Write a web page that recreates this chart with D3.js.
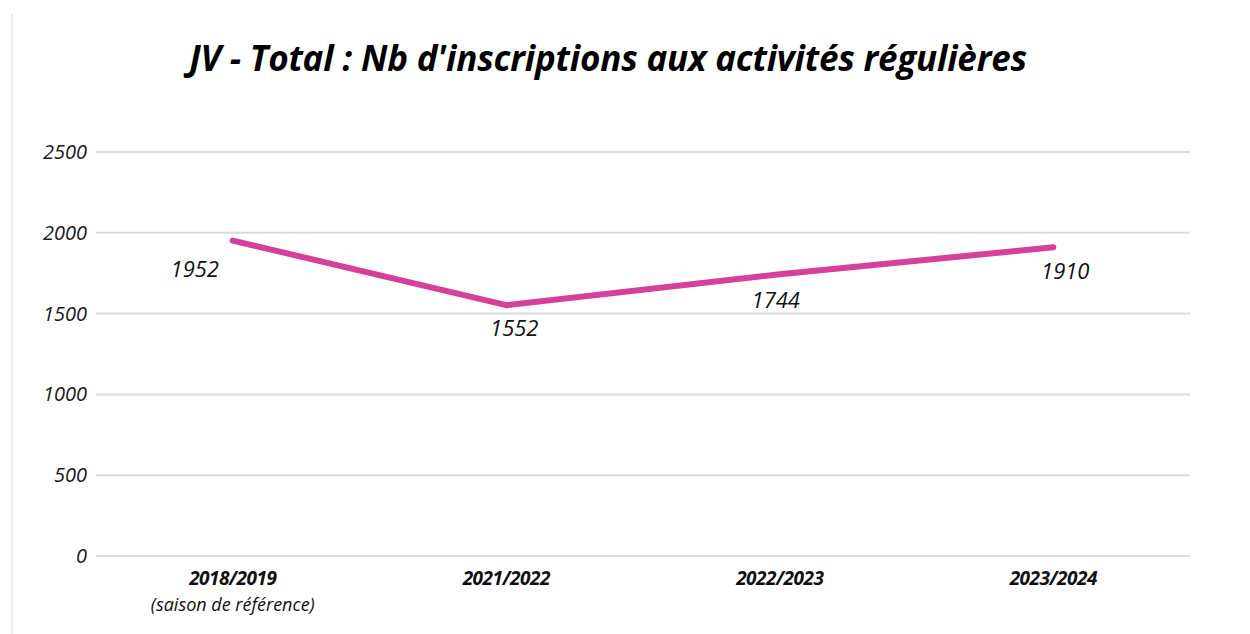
<!DOCTYPE html>
<html>
<head>
<meta charset="utf-8">
<script src="https://cdn.jsdelivr.net/npm/d3@7"></script>
<style>
  body { margin: 0; background: #fff; }
  text { font-family: "Open Sans", "Liberation Sans", sans-serif; }
</style>
</head>
<body>
<div id="chart"></div>
<script>
var w = 1250;
var h = 634;

// data
var seasons = ["2018/2019", "2021/2022", "2022/2023", "2023/2024"];
var subLabels = ["(saison de référence)", "", "", ""];
var inscriptions = [1952, 1552, 1744, 1910];
var yTicks = [0, 500, 1000, 1500, 2000, 2500];

var svg = d3.select("#chart")
    .append("svg")
    .attr("width", w)
    .attr("height", h);

// thin frame line on the left
svg.append("line")
    .attr("x1", 12).attr("x2", 12)
    .attr("y1", 14).attr("y2", h)
    .attr("stroke", "#e4e4e4")
    .attr("stroke-width", 1.5);

// title
svg.append("text")
    .attr("x", 608)
    .attr("y", 71)
    .attr("text-anchor", "middle")
    .style("font-size", "35px")
    .style("font-weight", "bold")
    .style("font-style", "italic")
    .style("letter-spacing", "-0.2px")
    .text("JV - Total : Nb d'inscriptions aux activités régulières");

var plotLeft = 96, plotRight = 1190, plotTop = 152, plotBottom = 556;

var xScale = d3.scalePoint().domain(seasons).range([plotLeft, plotRight]).padding(0.5);
var yScale = d3.scaleLinear().domain([0, 2500]).range([plotBottom, plotTop]);

// grid lines
svg.append("g")
    .selectAll("line")
    .data(yTicks)
    .enter().append("line")
    .attr("x1", plotLeft)
    .attr("x2", plotRight)
    .attr("y1", function(d) { return yScale(d); })
    .attr("y2", function(d) { return yScale(d); })
    .attr("stroke", "#dcdcdc")
    .attr("stroke-width", 2);

// y-axis labels
svg.append("g")
    .selectAll("text")
    .data(yTicks)
    .enter().append("text")
    .attr("x", 87)
    .attr("y", function(d) { return yScale(d) + 7; })
    .attr("text-anchor", "end")
    .style("font-size", "20px")
    .style("font-style", "italic")
    .attr("fill", "#1a1a1a")
    .text(function(d) { return d; });

// x-axis labels
svg.append("g")
    .selectAll("text")
    .data(seasons)
    .enter().append("text")
    .attr("x", function(d) { return xScale(d); })
    .attr("y", 585)
    .attr("text-anchor", "middle")
    .style("font-size", "19px")
    .style("font-style", "italic")
    .style("font-weight", "bold")
    .style("letter-spacing", "-0.5px")
    .attr("fill", "#111")
    .text(function(d) { return d; });

svg.append("g")
    .selectAll("text")
    .data(subLabels)
    .enter().append("text")
    .attr("x", function(d, i) { return xScale(seasons[i]); })
    .attr("y", 611)
    .attr("text-anchor", "middle")
    .style("font-size", "18px")
    .style("font-style", "italic")
    .attr("fill", "#111")
    .text(function(d) { return d; });

// the line
var pts = seasons.map(function(s, i) { return [xScale(s), yScale(inscriptions[i])]; });

svg.append("path")
    .datum(pts)
    .attr("d", d3.line())
    .attr("fill", "none")
    .attr("stroke", "#d6409a")
    .attr("stroke-width", 6)
    .attr("stroke-linecap", "round")
    .attr("stroke-linejoin", "round");

// value labels (offsets relative to each point)
var labelDx = [-38, 8, -4, 12];
var labelDy = [36, 31, 34, 32];

svg.append("g")
    .selectAll("text")
    .data(inscriptions)
    .enter().append("text")
    .attr("x", function(d, i) { return xScale(seasons[i]) + labelDx[i]; })
    .attr("y", function(d, i) { return yScale(d) + labelDy[i]; })
    .attr("text-anchor", "middle")
    .style("font-size", "22px")
    .style("font-style", "italic")
    .attr("fill", "#111")
    .text(function(d) { return d; });
</script>
</body>
</html>
